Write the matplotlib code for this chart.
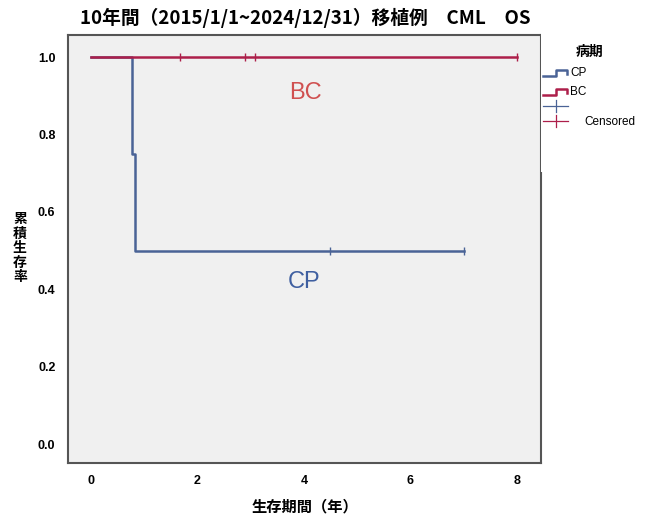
import matplotlib
matplotlib.use('Agg')
import matplotlib.pyplot as plt
from matplotlib.lines import Line2D
from matplotlib.patches import Rectangle

plt.rcParams['font.family'] = ['Noto Sans CJK JP', 'DejaVu Sans']

# CP: 4 cases, 2 deaths then 2 censored
cp_times = [0.0, 0.78, 0.82, 4.48, 7.0]
cp_surv = [1.0, 0.75, 0.5, 0.5, 0.5]
cp_censor_t = [4.48, 7.0]
cp_censor_s = [0.5, 0.5]

# BC: no events
bc_times = [0.0, 1.68, 2.9, 3.09, 8.0]
bc_surv = [1.0, 1.0, 1.0, 1.0, 1.0]
bc_censor_t = [1.68, 2.9, 3.09, 8.0]
bc_censor_s = [1.0, 1.0, 1.0, 1.0]

xticks = [0, 2, 4, 6, 8]
yticks = [0.0, 0.2, 0.4, 0.6, 0.8, 1.0]

cp_col = '#4a6396'
bc_col = '#ad1f4a'

W, H = 649, 519
fig = plt.figure(figsize=(W / 100, H / 100), dpi=100)
ax = fig.add_axes([68 / W, 1 - 463 / H, (541 - 68) / W, (463 - 35) / H])
ax.set_facecolor('#f0f0f0')

ax.step(cp_times, cp_surv, where='post', color=cp_col, lw=1.8, zorder=3)
ax.plot(cp_censor_t, cp_censor_s, ls='none', marker='|', ms=6, mew=1, color=cp_col, zorder=3)
ax.step(bc_times, bc_surv, where='post', color=bc_col, lw=1.8, zorder=4)
ax.plot(bc_censor_t, bc_censor_s, ls='none', marker='|', ms=6, mew=1, color=bc_col, zorder=4)

ax.text(4.02, 0.907, 'BC', color='#d05050', fontsize=17, ha='center', va='center',
        family='Liberation Sans')
ax.text(4.0, 0.42, 'CP', color='#3f5fa0', fontsize=17, ha='center', va='center',
        family='Liberation Sans')

ax.set_xlim(-0.43, 8.45)
ax.set_ylim(-0.049, 1.057)
ax.set_xticks(xticks)
ax.set_yticks(yticks)
ax.set_yticklabels([f'{v:.1f}' for v in yticks])
ax.tick_params(length=0, labelsize=9, pad=9)
for lab in ax.get_xticklabels() + ax.get_yticklabels():
    lab.set_fontweight('bold')
    lab.set_family(['Liberation Sans', 'DejaVu Sans'])
for s in ax.spines.values():
    s.set_color('#555555')
    s.set_linewidth(1.5)

fig.text(305 / W, 1 - 18 / H, '10年間（2015/1/1~2024/12/31）移植例　CML　OS',
         ha='center', va='center', fontsize=13.5, fontweight='bold')
fig.text(305 / W, 1 - 506 / H, '生存期間（年）', ha='center', va='center',
         fontsize=11, fontweight='bold')
fig.text(20 / W, 1 - 248 / H, '累\n積\n生\n存\n率', ha='center', va='center',
         fontsize=10, fontweight='bold', linespacing=1.05)

# legend block (white box over the top of the right spine)
fig.add_artist(Rectangle((540.5 / W, 1 - 172 / H), (W - 540.5) / W, 150 / H,
                         transform=fig.transFigure, facecolor='white', edgecolor='none', zorder=5))
fig.text(590 / W, 1 - 52 / H, '病期', ha='center', va='center', fontsize=10,
         fontweight='bold', zorder=6)

def fx(x):
    return x / W

def fy(y):
    return 1 - y / H

for yy, col, lab in [(73, cp_col, 'CP'), (92, bc_col, 'BC')]:
    xs = [543, 556, 556, 567, 567]
    ys = [yy + 3, yy + 3, yy - 3, yy - 3, yy + 1]
    fig.add_artist(Line2D([fx(v) for v in xs], [fy(v) for v in ys], transform=fig.transFigure,
                          color=col, lw=1.8, zorder=6))
    fig.text(fx(570), fy(yy), lab, ha='left', va='center', fontsize=8.5,
             family='Liberation Sans', zorder=6)

for yy, col in [(106, cp_col), (121, bc_col)]:
    fig.add_artist(Line2D([fx(543), fx(568)], [fy(yy), fy(yy)], transform=fig.transFigure,
                          color=col, lw=0.9, zorder=6))
    fig.add_artist(Line2D([fx(555.5), fx(555.5)], [fy(yy - 6), fy(yy + 6)], transform=fig.transFigure,
                          color=col, lw=0.9, zorder=6))
fig.text(fx(584), fy(122), 'Censored', ha='left', va='center', fontsize=8.5,
         family='Liberation Sans', zorder=6)

fig.savefig('out.png', dpi=100)
